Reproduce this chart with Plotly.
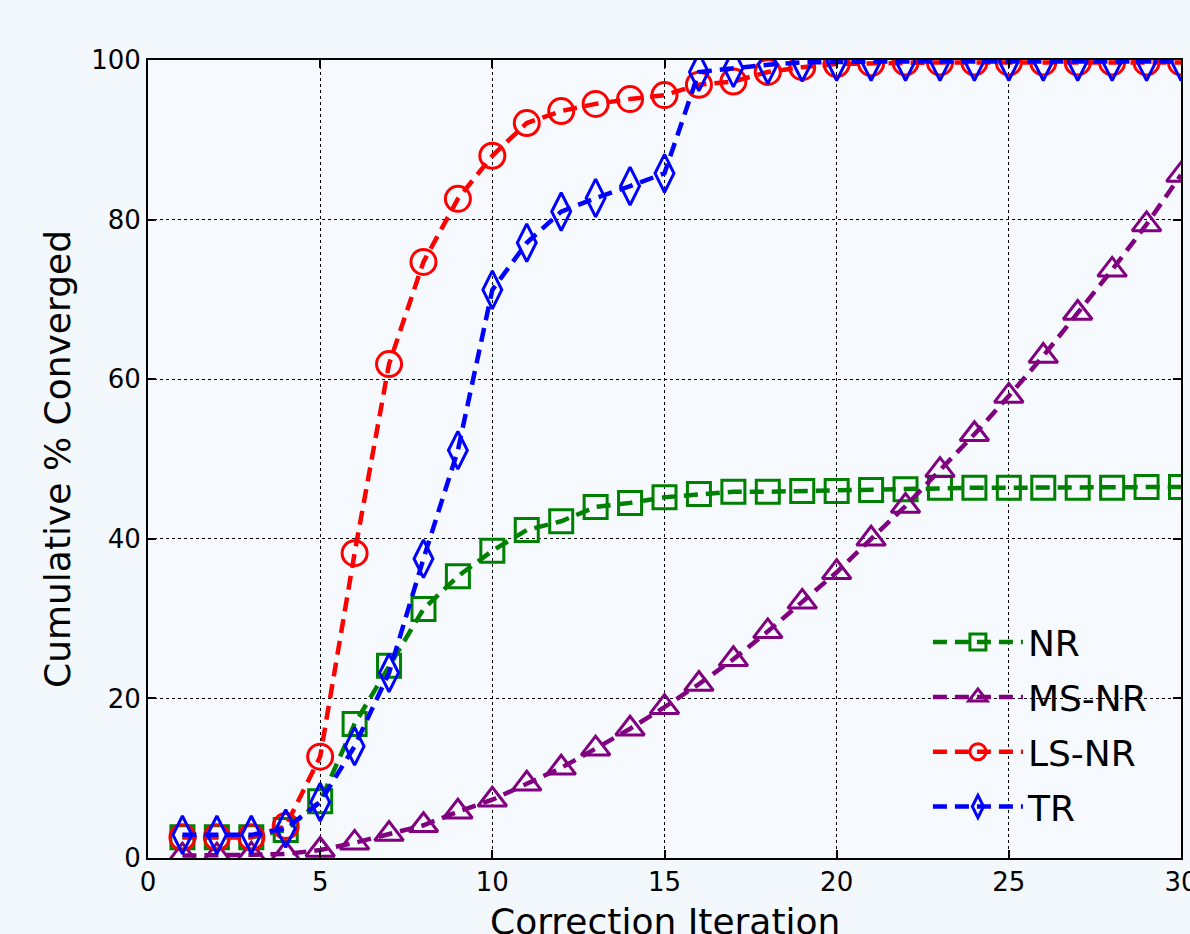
import plotly.graph_objects as go

iterations = list(range(1, 31))

nr = [2.6, 2.6, 2.6, 3.5, 7.1, 16.8, 24.1, 31.2, 35.3, 38.5,
      41.1, 42.2, 44.0, 44.5, 45.2, 45.6, 45.9, 45.9, 46.0, 46.0,
      46.1, 46.2, 46.4, 46.4, 46.4, 46.4, 46.4, 46.4, 46.5, 46.5]

ms_nr = [0.3, 0.3, 0.4, 0.5, 1.0, 1.9, 3.0, 4.1, 5.8, 7.3,
         9.3, 11.3, 13.7, 16.2, 18.9, 21.8, 24.9, 28.4, 32.1, 35.8,
         40.0, 44.1, 48.6, 53.1, 57.9, 62.9, 68.3, 73.7, 79.4, 85.6]

ls_nr = [2.6, 2.6, 2.6, 4.0, 12.7, 38.2, 61.9, 74.7, 82.6, 88.0,
         92.1, 93.6, 94.5, 95.1, 95.6, 96.9, 97.3, 98.5, 99.1, 99.5,
         99.6, 99.7, 99.7, 99.7, 99.7, 99.7, 99.7, 99.7, 99.7, 99.7]

tr = [2.9, 2.9, 2.9, 3.7, 7.0, 14.0, 23.2, 37.5, 51.1, 71.2,
      77.1, 81.0, 82.7, 84.2, 85.8, 98.5, 99.0, 99.4, 99.7, 99.8,
      99.8, 99.8, 99.8, 99.8, 99.8, 99.8, 99.8, 99.8, 99.8, 99.8]

series = [
    ("NR", nr, "#008000", "square-open", 23),
    ("MS-NR", ms_nr, "#800080", "triangle-up-open", 25),
    ("LS-NR", ls_nr, "#ff0000", "circle-open", 25),
    ("TR", tr, "#0000ff", "diamond-tall-open", 27),
]

x_ticks = [0, 5, 10, 15, 20, 25, 30]
y_ticks = [0, 20, 40, 60, 80, 100]

fig = go.Figure()
for name, vals, color, sym, size in series:
    fig.add_trace(go.Scatter(
        x=iterations, y=vals, name=name, mode="lines+markers",
        legendgroup=name,
        line=dict(color=color, width=4.5, dash="14px,8px"),
        marker=dict(symbol=sym, size=size, color=color,
                    line=dict(color=color, width=3)),
        cliponaxis=True,
    ))

axis_common = dict(
    showline=True, linecolor="black", linewidth=2, mirror="ticks",
    ticks="inside", ticklen=8, tickwidth=1.5, tickcolor="black",
    showgrid=True, gridcolor="black", gridwidth=1, griddash="dot",
    zeroline=False, ticklabeloverflow="allow", automargin=False,
    tickfont=dict(family="DejaVu Sans", size=26, color="black"),
)

fig.update_xaxes(range=[0, 30], tickvals=x_ticks, **axis_common)
fig.update_yaxes(range=[0, 100], tickvals=y_ticks,
                 title=dict(text="Cumulative % Converged",
                            font=dict(family="DejaVu Sans", size=36, color="black"),
                            standoff=10),
                 **axis_common)

fig.add_annotation(
    text="Correction Iteration", xref="paper", yref="paper",
    x=0.5, y=-0.079, xanchor="center", yanchor="middle", showarrow=False,
    font=dict(family="DejaVu Sans", size=36, color="black"),
)

fig.update_layout(
    width=1190, height=934,
    margin=dict(l=148, r=9, t=60, b=76),
    paper_bgcolor="#f3f8fd",
    plot_bgcolor="#f6f9fe",
    font=dict(family="DejaVu Sans", color="black"),
    showlegend=True,
    legend=dict(
        x=0.755, y=0.308, xanchor="left", yanchor="top",
        bgcolor="rgba(0,0,0,0)", borderwidth=0,
        font=dict(family="DejaVu Sans", size=36, color="black"),
        itemwidth=90, tracegroupgap=5,
    ),
)

fig.write_html(
    "out.html",
    config={"displayModeBar": False},
    post_script="document.body.style.margin='0';"
                "document.body.style.background='#f3f8fd';"
                "document.body.style.overflow='hidden';",
)
